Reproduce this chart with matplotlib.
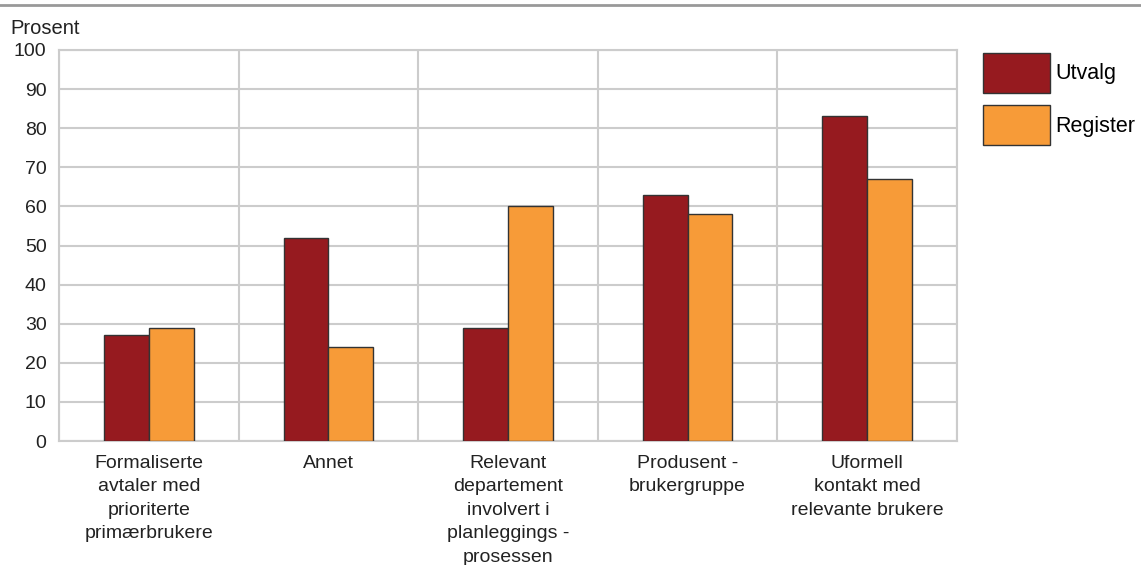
import numpy as np
import matplotlib
matplotlib.use("Agg")
import matplotlib.pyplot as plt
from matplotlib.lines import Line2D

plt.rcParams['font.family'] = ['Liberation Sans', 'DejaVu Sans']

categories = [
  "Formaliserte\navtaler med\nprioriterte\nprimærbrukere",
  "Annet",
  "Relevant\ndepartement\ninvolvert i\nplanleggings -\nprosessen",
  "Produsent -\nbrukergruppe",
  "Uformell\nkontakt med\nrelevante brukere",
]
utvalg = [27, 52, 29, 63, 83]
register = [29, 24, 60, 58, 67]
series_names = ["Utvalg", "Register"]
yticks = list(range(0, 101, 10))

RED = "#961a1f"
ORANGE = "#f79b38"
GRID = "#cccccc"

fig = plt.figure(figsize=(11.41, 5.65), dpi=100)
ax = fig.add_axes([59/1141, 1 - 441/565, (957-59)/1141, (441-50)/565])

x = np.arange(len(categories))
w = 0.25
ax.bar(x - w/2, utvalg, w, color=RED, edgecolor="#333333", linewidth=1, zorder=3, label=series_names[0])
ax.bar(x + w/2, register, w, color=ORANGE, edgecolor="#333333", linewidth=1, zorder=3, label=series_names[1])

ax.set_xlim(-0.5, len(categories) - 0.5)
ax.set_ylim(0, 100)
ax.set_yticks(yticks)
ax.set_xticks(x)
ax.set_xticklabels(categories, fontsize=14, color="#222222", linespacing=1.5)
ax.set_xticks(np.arange(len(categories) + 1) - 0.5, minor=True)
ax.tick_params(axis='y', length=0, pad=9, labelsize=14, labelcolor="#222222")
ax.tick_params(axis='x', which='both', length=0, pad=10)
ax.grid(axis='y', color=GRID, linewidth=1.5, zorder=0)
ax.grid(axis='x', which='minor', color=GRID, linewidth=1.5, zorder=0)
for sp in ax.spines.values():
  sp.set_color(GRID)
  sp.set_linewidth(1.5)

fig.text(10/1141, 1 - 28/565, "Prosent", fontsize=14.5, color="#222222", va='center', ha='left')
fig.add_artist(Line2D([0, 1], [1 - 5/565, 1 - 5/565], color="#999999", linewidth=2))

fig.legend(loc='upper left', bbox_to_anchor=(983/1141, 1 - 53/565), frameon=False,
           fontsize=15.5, handlelength=3.1, handleheight=2.45, labelspacing=0.6,
           handletextpad=0.25, borderpad=0, borderaxespad=0)

fig.savefig("out.png", dpi=100)
